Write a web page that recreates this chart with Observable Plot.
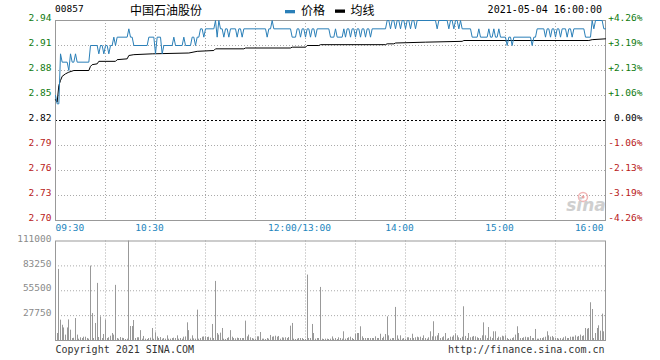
<!DOCTYPE html>
<html><head><meta charset="utf-8">
<script src="https://cdn.jsdelivr.net/npm/d3@7"></script>
<script src="https://cdn.jsdelivr.net/npm/@observablehq/plot@0.6"></script>
<style>
body{margin:0;background:#fff;}
#wrap{position:relative;width:660px;height:360px;overflow:hidden;background:#fff;}
#wrap svg{position:absolute;left:0;}
</style></head><body><div id="wrap"></div>
<script>
// ---------- data ----------
const stockCode = "00857";
const stockName = "中国石油股份";
const legendLabels = ["价格", "均线"];
const dateTimeLabel = "2021-05-04 16:00:00";
const copyrightText = "Copyright 2021 SINA.COM";
const urlText = "http://finance.sina.com.cn";
const watermarkText = "sina";

const prevClose = 2.82;
const priceTicks = [2.94, 2.91, 2.88, 2.85, 2.82, 2.79, 2.76, 2.73, 2.70];
const pctLabels = ["+4.26%", "+3.19%", "+2.13%", "+1.06%", "0.00%", "-1.06%", "-2.13%", "-3.19%", "-4.26%"];
const timeTickMinutes = [0, 60, 150, 210, 270, 330];
const timeTickLabels = ["09:30", "10:30", "12:00/13:00", "14:00", "15:00", "16:00"];
const gridMinutes = [30, 60, 90, 120, 150, 180, 210, 240, 270, 300];
const volumeTicks = [111000, 83250, 55500, 27750];

// price: minute index (0 = 09:30, 150 = 12:00/13:00, 330 = 16:00) where the price changes;
// the price holds its value until the next listed minute
const priceChangeMinutes = [0,1,3,4,8,9,10,12,13,21,26,27,29,30,32,33,35,36,37,44,45,47,56,60,61,64,65,71,72,77,78,82,84,85,87,89,90,96,97,98,99,101,102,104,105,109,110,112,113,127,128,130,131,142,145,147,148,150,151,153,154,156,157,165,168,169,173,174,175,177,178,180,181,183,184,186,187,189,190,199,201,202,204,205,207,208,210,211,213,214,216,217,229,230,236,237,239,240,242,243,244,250,254,255,260,261,263,264,266,267,271,272,274,275,286,287,289,294,295,297,298,300,301,303,304,307,308,310,311,318,322,323,324,329,330];
const priceChangeValues = [2.85,2.84,2.90,2.89,2.88,2.90,2.89,2.90,2.89,2.91,2.90,2.91,2.90,2.91,2.90,2.91,2.92,2.91,2.92,2.93,2.92,2.91,2.92,2.90,2.92,2.90,2.91,2.92,2.91,2.92,2.91,2.92,2.91,2.92,2.93,2.92,2.93,2.94,2.92,2.94,2.93,2.92,2.93,2.92,2.93,2.92,2.93,2.92,2.93,2.92,2.93,2.94,2.93,2.92,2.93,2.92,2.93,2.92,2.93,2.92,2.93,2.92,2.93,2.92,2.93,2.92,2.93,2.92,2.93,2.92,2.93,2.92,2.93,2.92,2.93,2.92,2.93,2.92,2.93,2.94,2.93,2.94,2.93,2.94,2.93,2.94,2.93,2.94,2.93,2.94,2.93,2.94,2.93,2.94,2.93,2.94,2.93,2.94,2.93,2.94,2.93,2.92,2.93,2.92,2.93,2.92,2.93,2.92,2.93,2.92,2.91,2.92,2.91,2.92,2.91,2.92,2.93,2.92,2.93,2.92,2.93,2.92,2.93,2.92,2.93,2.92,2.93,2.92,2.93,2.92,2.94,2.93,2.94,2.93,2.93];

// average price line
const avgMinutes = [0,1,2,3,4,6,8,11,20,21,22,25,26,36,37,43,44,47,58,80,85,95,96,113,114,141,142,150,151,158,159,198,199,203,204,222,244,245,320,322,330];
const avgValues = [2.845,2.842,2.862,2.868,2.873,2.876,2.878,2.880,2.880,2.885,2.887,2.888,2.891,2.891,2.893,2.894,2.898,2.899,2.900,2.901,2.903,2.904,2.906,2.906,2.907,2.907,2.908,2.908,2.910,2.910,2.911,2.911,2.912,2.912,2.913,2.914,2.915,2.916,2.916,2.917,2.918];

// volume per minute: morning minutes 0..150, afternoon minutes 151..330
const volumeAM = [2000,7800,79300,22700,17000,14000,6000,14000,23000,11500,
 2200,2500,24500,6000,1500,3000,2200,3700,3700,2200,
 1500,83000,30000,2200,19000,63700,3300,26400,2200,6700,
 22700,2200,3000,4800,7800,6000,61500,2200,1500,3300,
 2500,2200,1100,1500,111000,15600,15600,22300,2200,3000,
 3000,11000,1500,4500,1500,1100,2200,2600,13400,1500,
 8600,4000,2200,3300,1500,2200,1500,5200,1500,1500,
 2200,2600,2200,5200,1500,2200,1500,3700,4000,19700,
 11000,1500,5200,1800,1500,33900,1500,2200,3700,4000,
 4000,3300,3700,2600,17900,2200,65900,7800,6000,8200,
 13400,1500,1100,2200,3000,11000,3700,2200,1800,2600,
 2200,2200,2200,2200,21600,4100,6000,3000,2200,1500,
 1500,4100,4100,8900,1500,1500,1100,2200,1500,5600,
 3700,4100,4800,3700,4500,1500,3000,2600,3000,2200,
 3300,16000,19000,1500,1100,1500,2200,2200,2200,1100,
 1100];
const volumePM = [73000,2200,2200,17900,7800,1500,2200,2200,59200,1500,
 1100,1500,1500,1100,1500,4000,1500,2200,1100,3000,
 2200,1500,9700,1500,2200,3000,3700,2200,1100,7000,
 7800,7800,15300,4100,2200,2200,2200,2200,2200,2200,
 2200,4100,2200,2200,7000,2200,3700,6700,26400,5200,
 1500,2200,2200,36900,5200,1500,5200,1500,2200,1500,
 3000,3000,2200,7000,2200,3000,3700,3000,3700,2200,
 5200,2200,1500,3000,9700,4100,20900,4100,5200,7800,
 2200,3000,4100,7800,1500,2200,3700,3700,5200,7400,
 5200,3000,2200,3700,37600,4500,2200,7800,3000,3700,
 4500,4100,3000,2200,2200,5200,19700,5200,2200,14500,
 3700,2200,9700,9700,2200,3700,3000,4800,4100,5200,
 2200,1100,1500,2200,3000,6000,15300,7800,2200,2200,
 3000,3700,3000,3000,4500,2200,2200,12300,1500,1500,
 2200,2200,3000,3700,9700,5200,3700,4500,3000,2200,
 2200,1500,2200,1500,3000,4100,2200,2200,3700,3700,
 3700,5200,3700,4500,6000,4500,5200,13400,12600,13400,
 42100,34600,2200,7800,13400,16400,10400,29400,9700,25700];

// ---------- style ----------
const MONO = "'DejaVu Sans Mono', 'Liberation Mono', monospace";
const CJK = "'Noto Sans CJK SC', sans-serif";
const BLUE = "#2a7fb8";
const GREEN = "#0e7a0e";
const RED = "#b82020";
const TIMEBLUE = "#2385bd";
const GRID = "#aaaaaa";
const FRAME = "#999999";

// price series as minute samples: each value is held until the minute before the next change
const pricePts = [];
priceChangeMinutes.forEach((m, i) => {
  if (i > 0) {
    const pm = priceChangeMinutes[i - 1];
    if (m - 1 > pm) pricePts.push({m: m - 1, v: priceChangeValues[i - 1]});
  }
  pricePts.push({m, v: priceChangeValues[i]});
});
const avgPts = avgMinutes.map((m, i) => ({m, v: avgValues[i]}));
const volPts = volumeAM.map((v, i) => ({m: i, v})).concat(volumePM.map((v, i) => ({m: volumeAM.length + i, v})));
const labelColor = v => v > prevClose + 1e-9 ? GREEN : v < prevClose - 1e-9 ? RED : "#000";
const timeData = timeTickMinutes.map((m, i) => ({m, label: timeTickLabels[i]}));

const wrap = document.getElementById("wrap");

const priceChart = Plot.plot({
  width: 660, height: 232,
  marginLeft: 55, marginRight: 55, marginTop: 20, marginBottom: 12,
  x: {domain: [0, 330], axis: null},
  y: {domain: [2.70, 2.94], axis: null},
  color: {type: "identity"},
  style: {fontFamily: MONO, fontSize: "9.5px", background: "#fff", overflow: "visible"},
  marks: [
    Plot.ruleY(priceTicks.filter(v => v !== prevClose), {stroke: GRID, strokeDasharray: "1,2"}),
    Plot.ruleX(gridMinutes, {stroke: GRID, strokeDasharray: "1,2"}),
    Plot.ruleY([prevClose], {stroke: "#000", strokeDasharray: "2,2"}),
    Plot.frame({stroke: FRAME}),
    Plot.line(avgPts, {x: "m", y: "v", stroke: "#000", strokeWidth: 1}),
    Plot.line(pricePts, {x: "m", y: "v", stroke: BLUE, strokeWidth: 1}),
    Plot.text(priceTicks, {y: d => d, text: d => d.toFixed(2), frameAnchor: "left", textAnchor: "end", lineAnchor: "bottom", dx: -4, dy: 0.7, fill: labelColor}),
    Plot.text(priceTicks, {y: d => d, text: (d, i) => pctLabels[i], frameAnchor: "right", textAnchor: "end", lineAnchor: "bottom", dx: 37, dy: 0.7, fill: labelColor}),
    Plot.text(timeData.slice(0, 1), {x: "m", text: "label", frameAnchor: "bottom", textAnchor: "start", lineAnchor: "bottom", dy: 10.7, fill: TIMEBLUE}),
    Plot.text(timeData.slice(1, -1), {x: "m", text: "label", frameAnchor: "bottom", textAnchor: "middle", lineAnchor: "bottom", dx: -6, dy: 10.7, fill: TIMEBLUE}),
    Plot.text(timeData.slice(-1), {x: "m", text: "label", frameAnchor: "bottom", textAnchor: "end", lineAnchor: "bottom", dx: -2, dy: 10.7, fill: TIMEBLUE})
  ]
});
priceChart.style.top = "0px";
wrap.appendChild(priceChart);

const volChart = Plot.plot({
  width: 660, height: 128,
  marginLeft: 55, marginRight: 55, marginTop: 8.5, marginBottom: 20,
  x: {domain: [0, 330], axis: null, round: true},
  y: {domain: [0, 111000], axis: null},
  style: {fontFamily: MONO, fontSize: "9.5px", background: "#fff", overflow: "visible"},
  marks: [
    Plot.ruleY(volumeTicks.slice(1), {stroke: GRID, strokeDasharray: "1,2"}),
    Plot.ruleX(gridMinutes, {stroke: GRID, strokeDasharray: "1,2"}),
    Plot.ruleX(volPts, {x: "m", y: "v", stroke: "#999", strokeWidth: 1}),
    Plot.frame({stroke: FRAME}),
    Plot.text(volumeTicks, {y: d => d, text: d => String(d), frameAnchor: "left", textAnchor: "end", lineAnchor: "bottom", dx: -4, dy: 0.7, fill: "#8a8a8a"}),
    Plot.text([copyrightText], {text: d => d, frameAnchor: "bottom-left", textAnchor: "start", lineAnchor: "bottom", dy: 12.7, fill: "#333", fontSize: 10}),
    Plot.text([urlText], {text: d => d, frameAnchor: "bottom-right", textAnchor: "end", lineAnchor: "bottom", dx: -1, dy: 12.7, fill: "#333", fontSize: 10})
  ]
});
volChart.style.top = "232px";
wrap.appendChild(volChart);

// header + watermark overlay
const ov = d3.create("svg").attr("width", 660).attr("height", 360)
  .style("top", "0px").style("pointer-events", "none");
ov.append("text").attr("x", 55).attr("y", 12).attr("font-family", MONO).attr("font-size", 9.5).attr("fill", "#000").text(stockCode);
ov.append("text").attr("x", 130).attr("y", 14.5).attr("font-family", CJK).attr("font-size", 12).attr("fill", "#000").text(stockName);
ov.append("rect").attr("x", 285).attr("y", 10).attr("width", 10).attr("height", 3.3).attr("fill", BLUE);
ov.append("text").attr("x", 301).attr("y", 14.5).attr("font-family", CJK).attr("font-size", 12).attr("fill", "#000").text(legendLabels[0]);
ov.append("rect").attr("x", 335).attr("y", 9.5).attr("width", 10).attr("height", 3.3).attr("fill", "#000");
ov.append("text").attr("x", 350.5).attr("y", 14.5).attr("font-family", CJK).attr("font-size", 12).attr("fill", "#000").text(legendLabels[1]);
ov.append("text").attr("x", 602).attr("y", 12.7).attr("text-anchor", "end").attr("font-family", MONO).attr("font-size", 10).attr("fill", "#000").text(dateTimeLabel);
// sina watermark
ov.append("circle").attr("cx", 583).attr("cy", 197).attr("r", 4.5).attr("fill", "none").attr("stroke", "#f2b6b6").attr("stroke-width", 1.5);
ov.append("circle").attr("cx", 583).attr("cy", 197).attr("r", 1.6).attr("fill", "#eea0a0");
ov.append("text").attr("x", 586).attr("y", 211).attr("text-anchor", "middle").attr("font-family", "'DejaVu Sans', sans-serif")
  .attr("font-size", 17).attr("font-style", "italic").attr("font-weight", "bold").attr("fill", "#cfcfcf").text(watermarkText);
wrap.appendChild(ov.node());
</script>
</body></html>
